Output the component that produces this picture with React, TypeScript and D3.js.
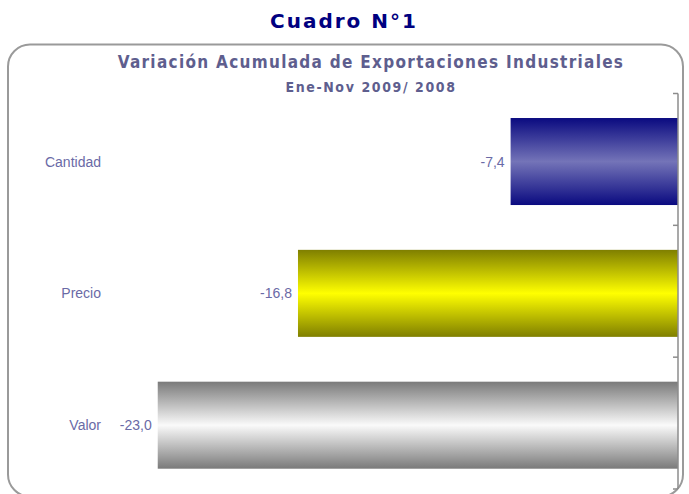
import React from "react";
import * as d3 from "d3";

const categories = ["Cantidad", "Precio", "Valor"];
const values = [-7.4, -16.8, -23.0];
const valueLabels = ["-7,4", "-16,8", "-23,0"];
const gradEdge = ["#0a0a80", "#7f7f00", "#7a7a7a"];
const gradMid = ["#7474b8", "#ffff00", "#fafafa"];

export default function App() {
  const W = 689, H = 494;
  const x = d3.scaleLinear().domain([-25, 0]).range([112.5, 678]);
  const yTicks = d3.scaleBand().domain(categories).range([93.5, 489]);
  const step = yTicks.bandwidth();
  const tickYs = [...categories.map((c) => yTicks(c) as number), 489];
  const txt = "#6a6aa6";
  return (
    <svg width={W} height={H} style={{ position: "absolute", left: 0, top: 0, background: "#fff" }}>
      <defs>
        {categories.map((c, i) => (
          <linearGradient key={c} id={`g${i}`} x1="0" y1="0" x2="0" y2="1">
            <stop offset="0" stopColor={gradEdge[i]} />
            <stop offset="0.5" stopColor={gradMid[i]} />
            <stop offset="1" stopColor={gradEdge[i]} />
          </linearGradient>
        ))}
      </defs>
      <text x={344} y={28} textAnchor="middle" fontFamily="DejaVu Sans" fontWeight="bold" fontSize={20} fill="#000080" letterSpacing={2}>
        Cuadro N°1
      </text>
      <rect x={8} y={44.5} width={675} height={452} rx={22} ry={22} fill="none" stroke="#9a9a9a" strokeWidth={2} />
      <text x={371} y={68} textAnchor="middle" fontFamily="DejaVu Sans Condensed, DejaVu Sans" fontWeight="bold" fontSize={17} fill="#5e5e8e" letterSpacing={1.3}>
        Variación Acumulada de Exportaciones Industriales
      </text>
      <text x={371} y={92} textAnchor="middle" fontFamily="DejaVu Sans Condensed, DejaVu Sans" fontWeight="bold" fontSize={14} fill="#5e5e8e" letterSpacing={1.6}>
        Ene-Nov  2009/ 2008
      </text>
      {categories.map((c, i) => {
        const y0 = (yTicks(c) as number) + step * 0.186;
        const bh = step * 0.66;
        const xl = x(values[i]);
        return (
          <g key={c}>
            <rect x={xl} y={y0} width={x(0) - xl} height={bh} fill={`url(#g${i})`} />
            <text x={xl - 6} y={y0 + bh / 2 + 5} textAnchor="end" fontFamily="Liberation Sans, Arial" fontSize={14} fill={txt}>
              {valueLabels[i]}
            </text>
            <text x={101} y={y0 + bh / 2 + 5} textAnchor="end" fontFamily="Liberation Sans, Arial" fontSize={14} fill={txt}>
              {c}
            </text>
          </g>
        );
      })}
      <line x1={678} x2={678} y1={93.5} y2={489} stroke="#8c8c8c" strokeWidth={1.5} />
      {tickYs.map((t, i) => (
        <line key={i} x1={673} x2={678} y1={t} y2={t} stroke="#8c8c8c" strokeWidth={1.5} />
      ))}
    </svg>
  );
}
